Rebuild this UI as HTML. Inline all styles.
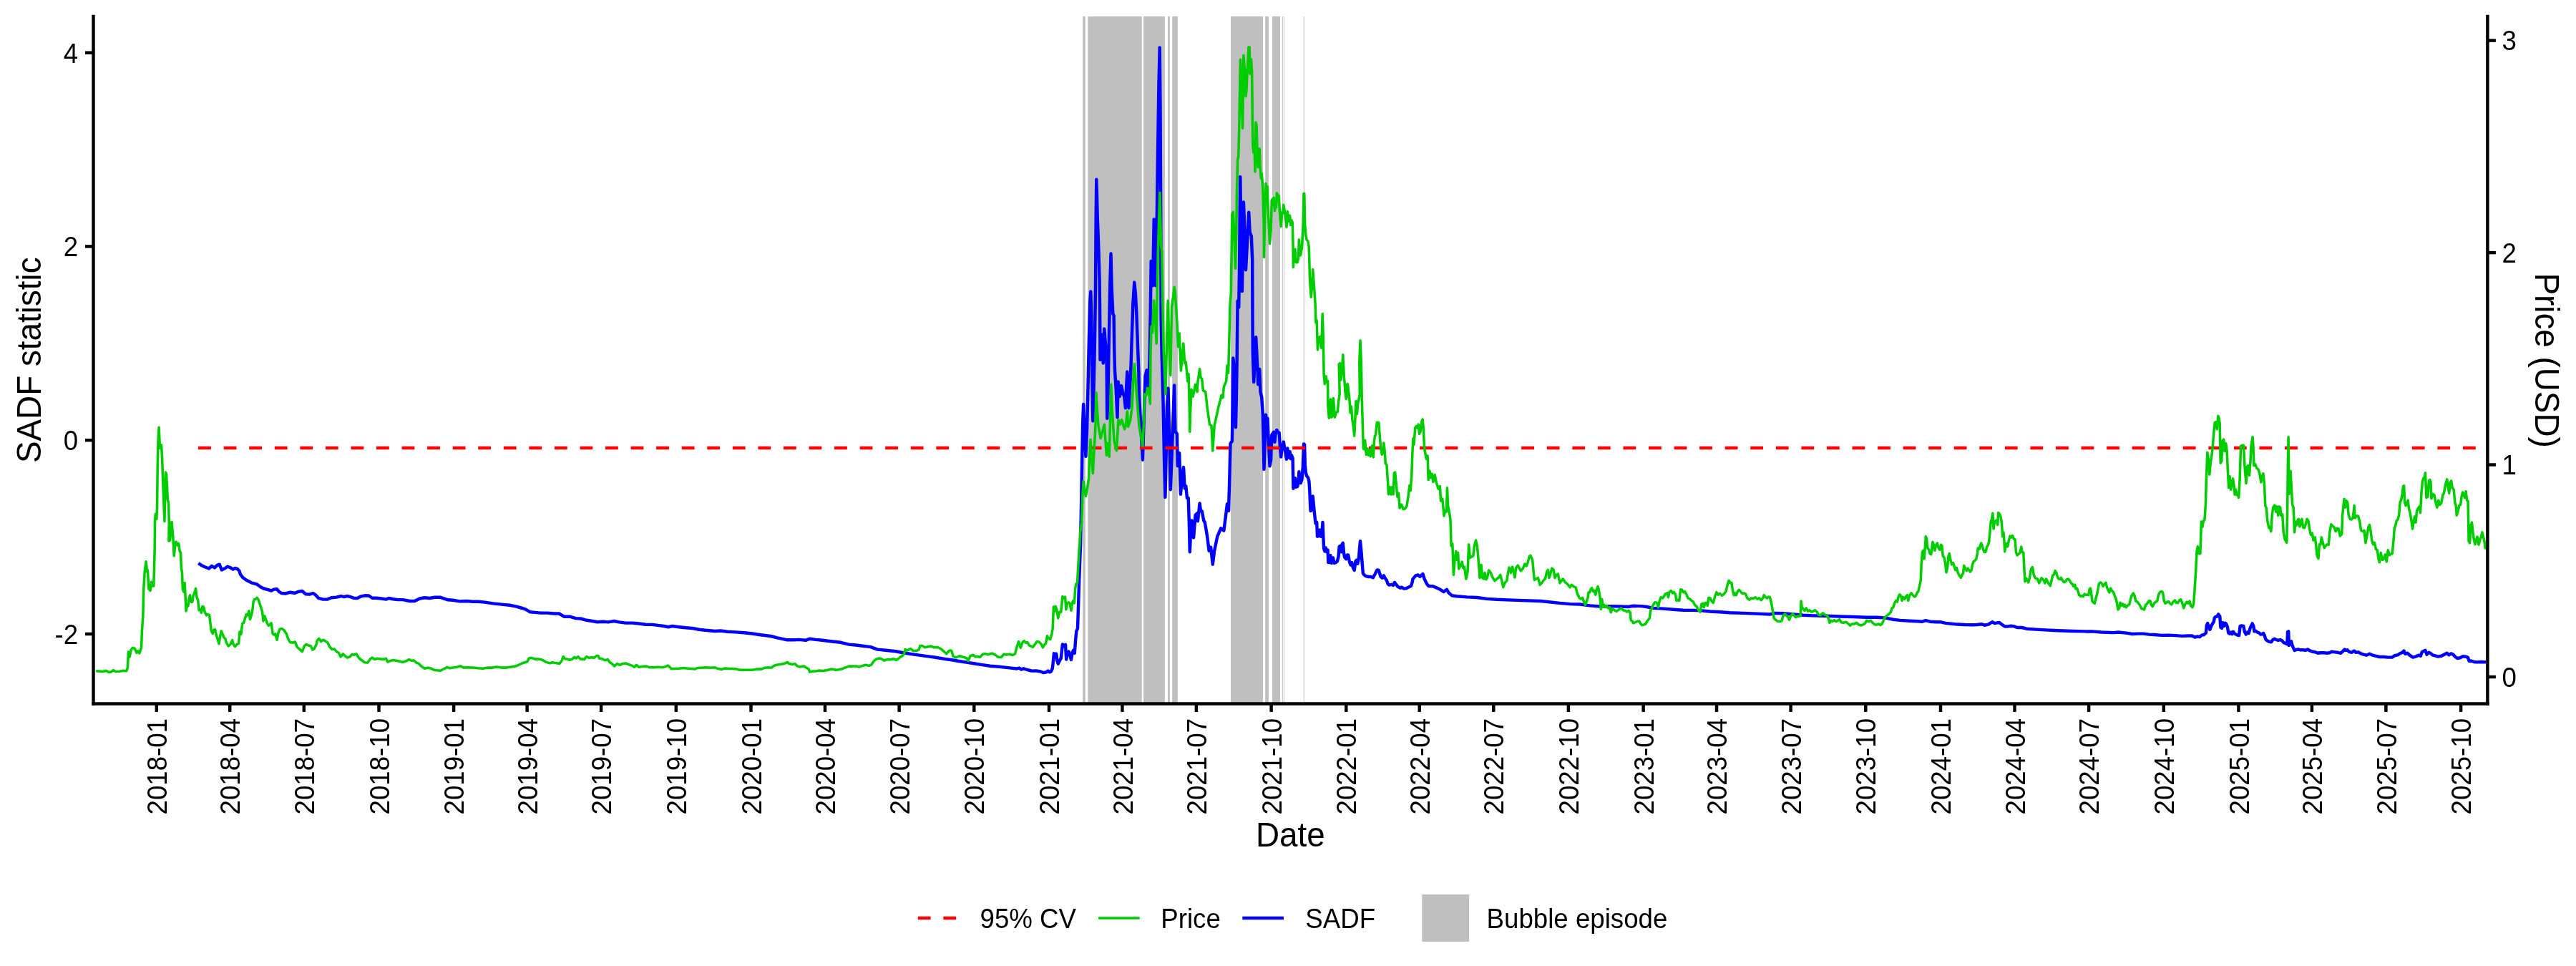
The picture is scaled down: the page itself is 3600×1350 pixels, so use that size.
<!DOCTYPE html>
<html><head><meta charset="utf-8"><title>SADF</title>
<style>html,body{margin:0;padding:0;background:#fff}body{width:3600px;height:1350px;overflow:hidden}</style></head>
<body>
<svg width="3600" height="1350" viewBox="0 0 3600 1350" style="display:block;will-change:transform;font-family:'Liberation Sans',sans-serif">
<rect width="3600" height="1350" fill="#fff"/>
<rect x="1513.1" y="22.9" width="3.7" height="960.5" fill="#bfbfbf"/>
<rect x="1520.2" y="22.9" width="75.5" height="960.5" fill="#bfbfbf"/>
<rect x="1598.1" y="22.9" width="29.8" height="960.5" fill="#bfbfbf"/>
<rect x="1632.0" y="22.9" width="2.8" height="960.5" fill="#bfbfbf"/>
<rect x="1638.1" y="22.9" width="7.8" height="960.5" fill="#bfbfbf"/>
<rect x="1720.0" y="22.9" width="45.0" height="960.5" fill="#bfbfbf"/>
<rect x="1768.2" y="22.9" width="4.7" height="960.5" fill="#bfbfbf"/>
<rect x="1778.0" y="22.9" width="11.0" height="960.5" fill="#bfbfbf"/>
<rect x="1791.83" y="22.9" width="0.95" height="960.5" fill="#bfbfbf"/>
<rect x="1793.83" y="22.9" width="0.95" height="960.5" fill="#bfbfbf"/>
<rect x="1821.83" y="22.9" width="0.95" height="960.5" fill="#bfbfbf"/>
<path d="M277.2 787.1 L281.4 789.9 L286.1 792.2 L291.9 794.5 L295.8 791.0 L300.0 793.4 L303.5 789.9 L306.6 788.7 L309.8 796.4 L314.0 794.5 L318.2 791.7 L322.2 793.4 L325.7 795.7 L328.4 794.1 L331.7 795.0 L334.5 798.0 L335.9 802.7 L339.6 807.3 L344.3 810.8 L351.3 814.3 L359.4 816.7 L364.1 820.2 L368.7 822.5 L374.6 824.1 L379.2 825.5 L382.7 823.6 L386.9 823.2 L389.7 826.7 L393.2 829.0 L399.0 829.5 L404.8 827.8 L411.8 828.8 L417.7 826.7 L422.3 826.0 L427.0 830.2 L432.8 830.6 L437.5 829.0 L440.9 831.3 L444.9 835.8 L451.4 837.6 L457.3 837.6 L463.1 835.3 L470.1 834.6 L477.0 833.0 L480.5 834.1 L485.2 833.0 L489.9 834.1 L494.5 835.8 L499.2 836.0 L503.8 833.7 L509.7 832.3 L515.5 832.5 L520.1 835.8 L526.0 835.8 L533.0 836.5 L539.9 837.6 L543.4 836.0 L549.3 837.2 L556.2 838.1 L563.2 838.1 L572.5 840.0 L579.5 840.0 L586.5 836.5 L593.5 835.3 L600.5 836.0 L607.5 834.8 L615.6 834.8 L621.5 836.9 L626.1 838.3 L633.1 838.8 L642.4 840.4 L651.7 840.0 L661.1 840.7 L668.0 840.7 L677.4 841.6 L689.0 843.4 L700.7 844.6 L712.3 845.8 L721.6 847.6 L730.0 850.0 L734.7 851.7 L740.5 855.2 L747.5 855.9 L755.6 856.6 L764.9 856.6 L774.3 857.5 L781.2 857.5 L788.2 861.7 L796.4 861.7 L804.5 864.1 L811.5 864.5 L819.7 866.8 L827.8 868.0 L834.8 869.2 L843.0 868.7 L850.0 869.4 L858.1 868.0 L865.1 869.4 L874.4 870.6 L883.7 870.6 L893.0 871.5 L902.4 872.7 L911.7 872.9 L921.0 874.1 L928.0 875.0 L933.8 876.2 L939.6 875.0 L948.9 876.2 L958.3 877.3 L967.6 878.0 L976.9 879.7 L986.2 880.8 L999.0 882.0 L1007.2 881.5 L1016.5 882.7 L1028.1 883.4 L1039.8 884.3 L1051.4 885.5 L1063.1 887.3 L1077.0 889.0 L1086.4 891.3 L1100.3 894.3 L1109.7 894.3 L1116.6 893.9 L1126.0 894.8 L1131.8 892.7 L1139.9 893.9 L1149.3 894.8 L1160.9 896.2 L1174.9 897.8 L1186.5 900.6 L1198.2 901.8 L1207.5 903.0 L1216.8 904.1 L1226.1 907.6 L1237.8 908.8 L1251.7 910.2 L1263.4 912.5 L1277.4 914.6 L1293.7 916.9 L1307.6 918.8 L1321.6 921.1 L1330.0 922.3 L1340.4 924.0 L1350.7 925.6 L1361.1 927.3 L1371.4 928.9 L1383.8 930.8 L1396.3 931.8 L1408.7 933.1 L1421.1 934.5 L1424.2 933.5 L1427.3 935.6 L1430.4 934.3 L1435.6 936.0 L1441.8 937.6 L1448.0 937.4 L1454.2 938.5 L1458.4 940.1 L1462.5 939.3 L1464.6 937.6 L1467.1 939.3 L1469.1 938.1 L1470.8 933.9 L1472.0 923.6 L1472.9 913.2 L1474.5 918.4 L1476.2 913.6 L1477.4 923.6 L1478.7 927.7 L1480.7 923.6 L1482.8 919.8 L1484.9 900.4 L1486.9 902.9 L1489.0 900.8 L1490.2 921.5 L1491.9 913.2 L1493.6 910.7 L1495.2 914.2 L1496.9 921.9 L1498.5 913.2 L1499.8 909.1 L1501.8 912.8 L1503.1 894.6 L1504.3 882.2 L1506.0 878.4 L1507.2 842.8 L1508.1 811.8 L1509.3 780.7 L1510.1 760.0 L1510.6 730.0 L1511.4 690.0 L1512.2 640.0 L1513.2 590.0 L1514.1 565.0 L1515.5 600.0 L1517.4 637.8 L1519.0 600.0 L1520.5 540.0 L1522.0 470.0 L1523.4 420.0 L1524.3 407.4 L1525.2 440.0 L1526.2 520.0 L1527.3 588.2 L1528.6 540.0 L1529.9 480.0 L1531.0 400.0 L1531.6 310.0 L1532.3 250.8 L1532.9 270.0 L1533.6 300.0 L1535.4 350.0 L1536.6 392.0 L1537.1 440.0 L1537.5 502.7 L1538.6 490.0 L1539.8 467.6 L1541.7 507.5 L1542.6 480.0 L1543.3 459.6 L1545.4 487.0 L1546.6 509.3 L1547.2 584.8 L1548.3 560.0 L1549.7 480.0 L1551.2 400.0 L1552.5 354.5 L1553.6 400.0 L1555.3 438.5 L1556.6 441.0 L1557.2 487.0 L1558.0 517.7 L1559.6 542.5 L1561.5 583.2 L1562.6 533.5 L1564.9 554.0 L1567.1 539.3 L1569.5 550.0 L1571.2 554.0 L1572.9 570.2 L1574.2 540.0 L1575.3 519.6 L1576.4 545.0 L1577.5 570.2 L1578.8 545.0 L1580.2 520.0 L1583.3 424.8 L1585.3 394.6 L1586.8 410.0 L1588.3 437.3 L1590.1 487.0 L1591.4 520.0 L1591.9 550.8 L1594.0 590.0 L1596.9 642.7 L1598.2 600.0 L1599.4 560.0 L1600.5 526.0 L1602.6 517.2 L1603.5 539.2 L1605.5 542.5 L1606.6 500.0 L1607.7 440.0 L1608.7 365.0 L1609.7 372.0 L1611.1 399.2 L1612.7 306.6 L1614.2 307.0 L1615.3 399.2 L1616.3 340.0 L1617.8 230.0 L1619.4 120.0 L1620.7 66.5 L1621.5 150.0 L1622.2 300.0 L1622.6 440.0 L1623.7 497.0 L1625.5 560.0 L1627.0 640.0 L1628.4 694.9 L1629.6 640.0 L1630.8 570.0 L1632.5 542.6 L1634.0 600.0 L1635.8 684.2 L1637.5 640.0 L1640.0 570.0 L1641.1 538.5 L1642.4 603.1 L1644.9 606.4 L1645.8 651.0 L1648.2 633.1 L1649.9 690.8 L1652.0 668.0 L1654.0 653.0 L1655.7 682.6 L1657.3 679.3 L1659.0 695.9 L1660.7 695.9 L1661.8 730.0 L1662.8 771.3 L1664.0 745.0 L1665.6 727.5 L1668.1 751.4 L1670.6 719.9 L1673.1 717.4 L1673.9 728.2 L1676.6 703.5 L1678.0 714.1 L1679.7 714.1 L1682.2 727.3 L1683.8 730.0 L1687.2 749.9 L1689.6 769.8 L1692.1 764.8 L1694.8 788.7 L1697.1 769.8 L1701.2 749.9 L1706.2 738.3 L1710.3 741.6 L1712.8 722.4 L1715.0 704.3 L1717.0 714.0 L1718.3 669.4 L1719.5 619.7 L1721.9 616.4 L1722.6 570.0 L1723.3 500.4 L1724.4 510.0 L1726.9 597.2 L1727.8 560.0 L1728.6 510.0 L1729.6 420.4 L1731.2 429.5 L1732.0 380.0 L1732.7 300.0 L1733.3 247.1 L1734.0 300.0 L1735.0 370.0 L1735.9 407.0 L1736.9 350.0 L1737.9 282.5 L1739.5 324.7 L1741.0 377.2 L1743.1 337.6 L1745.2 296.7 L1746.7 324.7 L1748.8 329.9 L1750.2 363.5 L1750.5 441.2 L1750.8 492.9 L1752.2 534.0 L1753.8 500.0 L1755.2 471.3 L1757.4 514.2 L1758.2 537.2 L1760.2 516.0 L1761.5 548.0 L1763.2 555.0 L1764.8 578.0 L1765.7 616.0 L1766.5 655.9 L1767.8 616.3 L1769.0 579.8 L1770.1 588.1 L1771.5 584.8 L1772.8 616.3 L1774.5 651.4 L1776.1 642.8 L1777.3 608.0 L1778.9 605.5 L1780.1 603.8 L1781.4 617.8 L1782.7 604.7 L1784.4 601.0 L1786.0 604.7 L1787.7 604.7 L1788.9 624.5 L1790.2 638.5 L1791.7 624.5 L1792.7 622.9 L1793.8 617.6 L1795.5 627.8 L1796.6 632.8 L1798.0 641.8 L1799.3 626.5 L1800.6 636.1 L1801.6 639.4 L1802.6 631.2 L1803.8 641.1 L1804.9 636.1 L1806.6 640.3 L1807.1 665.9 L1807.4 682.7 L1808.7 669.3 L1810.1 668.4 L1811.2 680.8 L1813.2 680.0 L1814.5 674.2 L1815.4 659.3 L1816.5 669.3 L1817.8 675.1 L1819.5 669.3 L1820.8 652.7 L1822.0 620.4 L1823.1 621.2 L1823.8 649.4 L1824.8 660.1 L1826.1 665.1 L1828.1 667.6 L1829.4 672.6 L1830.3 685.8 L1830.8 699.1 L1831.6 714.1 L1833.6 711.6 L1834.7 693.5 L1836.9 716.6 L1838.6 731.5 L1840.2 729.8 L1841.0 749.7 L1843.5 748.9 L1844.7 740.6 L1846.0 749.7 L1847.3 748.0 L1848.5 730.0 L1849.3 749.7 L1850.1 766.3 L1851.3 770.4 L1852.6 765.4 L1854.0 771.2 L1855.6 768.7 L1856.3 786.1 L1857.9 786.1 L1859.3 776.3 L1860.9 787.0 L1862.9 779.5 L1864.6 787.0 L1866.7 786.1 L1868.9 784.5 L1870.5 777.8 L1871.7 763.8 L1873.0 762.9 L1874.5 771.2 L1875.8 760.5 L1876.8 758.8 L1878.0 772.9 L1879.1 778.7 L1881.1 781.2 L1882.8 775.4 L1884.1 775.4 L1885.8 784.5 L1887.4 789.4 L1889.1 786.1 L1890.7 792.8 L1892.7 796.9 L1894.4 784.5 L1895.7 782.8 L1897.3 787.8 L1899.0 779.5 L1900.0 766.3 L1901.0 756.3 L1902.3 769.6 L1903.6 786.1 L1904.8 801.0 L1906.5 803.5 L1908.9 805.2 L1912.3 806.0 L1915.6 806.0 L1918.9 807.3 L1921.4 802.7 L1923.0 799.4 L1924.7 796.4 L1926.8 796.9 L1928.0 801.0 L1929.6 806.0 L1931.8 807.7 L1933.8 804.3 L1935.4 807.7 L1937.9 811.0 L1939.6 815.9 L1941.2 817.6 L1944.6 816.8 L1947.0 817.9 L1949.0 814.0 L1951.2 816.8 L1953.7 820.1 L1957.0 821.7 L1958.6 820.6 L1961.9 822.6 L1965.3 822.2 L1968.6 820.6 L1971.9 818.9 L1973.5 814.3 L1974.4 809.3 L1976.0 807.3 L1978.5 804.3 L1981.8 803.5 L1984.3 806.0 L1988.4 802.0 L1990.6 809.0 L1994.0 816.0 L1996.8 819.3 L2002.4 819.3 L2008.0 821.6 L2013.5 824.3 L2017.7 827.1 L2021.9 823.8 L2024.7 828.5 L2028.9 832.2 L2035.9 833.3 L2049.9 834.4 L2063.9 835.0 L2077.8 836.9 L2091.8 837.8 L2119.8 838.9 L2153.3 840.0 L2180.0 842.9 L2194.0 844.1 L2208.0 844.5 L2221.9 846.4 L2235.9 847.5 L2249.9 847.1 L2263.9 847.5 L2275.5 848.0 L2282.5 846.8 L2294.1 847.1 L2301.1 848.0 L2310.4 849.9 L2324.4 850.6 L2338.4 851.7 L2352.4 852.7 L2366.3 852.9 L2378.0 853.4 L2389.6 854.5 L2403.6 855.2 L2417.6 856.2 L2436.2 856.9 L2454.8 857.6 L2473.5 858.5 L2480.5 856.9 L2492.1 857.3 L2506.1 858.5 L2520.1 859.7 L2534.0 860.4 L2552.7 860.8 L2571.3 861.5 L2589.9 862.0 L2608.6 862.7 L2622.5 862.7 L2634.2 863.4 L2645.8 865.7 L2655.2 866.9 L2669.1 867.8 L2680.0 868.3 L2686.5 868.7 L2691.3 867.2 L2697.4 868.7 L2706.1 869.3 L2712.6 869.3 L2719.1 870.9 L2732.2 872.2 L2745.2 873.0 L2756.1 873.3 L2762.6 873.0 L2769.1 872.2 L2773.5 873.7 L2778.9 872.6 L2782.2 870.4 L2784.3 869.3 L2787.6 871.1 L2790.9 870.4 L2794.1 870.0 L2797.4 872.6 L2801.7 875.4 L2806.1 875.4 L2810.4 874.8 L2814.8 875.4 L2819.1 877.0 L2825.7 877.0 L2832.2 878.7 L2845.2 879.6 L2858.3 880.4 L2875.7 881.3 L2897.4 882.0 L2914.8 882.4 L2923.5 882.4 L2936.5 883.5 L2953.9 884.1 L2960.4 883.5 L2971.3 884.6 L2980.0 886.0 L2987.8 885.6 L2995.5 885.6 L3003.3 886.6 L3011.1 887.0 L3020.8 887.9 L3030.5 887.6 L3040.2 888.1 L3049.9 888.9 L3057.6 888.5 L3063.5 888.5 L3067.3 890.5 L3071.2 889.5 L3074.1 890.1 L3077.0 887.6 L3080.0 887.0 L3082.9 884.6 L3083.8 874.0 L3085.2 871.1 L3086.8 875.9 L3088.3 879.8 L3089.9 875.9 L3091.8 872.0 L3093.7 869.1 L3094.9 863.3 L3096.5 861.7 L3098.4 861.7 L3100.3 858.4 L3102.3 861.4 L3103.4 876.9 L3105.0 877.8 L3106.6 870.1 L3108.1 874.9 L3109.7 870.7 L3111.2 872.0 L3112.8 875.9 L3114.3 884.6 L3115.9 885.6 L3117.8 883.7 L3119.4 886.2 L3120.9 882.7 L3122.9 885.6 L3124.8 886.6 L3126.7 887.6 L3129.1 888.1 L3130.6 874.9 L3132.6 874.5 L3135.3 874.9 L3136.8 882.7 L3138.8 886.6 L3140.7 883.7 L3142.7 885.0 L3144.6 877.8 L3146.1 874.5 L3147.7 871.4 L3149.3 874.9 L3150.4 882.3 L3152.7 881.7 L3154.7 883.7 L3157.0 884.3 L3159.3 886.6 L3161.3 886.2 L3163.2 885.0 L3164.8 888.5 L3166.3 893.4 L3168.3 895.3 L3171.2 896.7 L3174.1 897.3 L3176.4 894.0 L3178.4 892.8 L3181.1 894.0 L3183.8 894.9 L3186.7 894.0 L3189.2 895.3 L3191.6 898.2 L3194.5 899.2 L3196.4 900.2 L3197.0 883.1 L3198.2 882.3 L3198.9 902.1 L3200.5 897.3 L3202.0 896.3 L3203.6 902.1 L3205.2 906.0 L3206.7 908.9 L3209.0 907.9 L3211.9 907.5 L3214.9 908.3 L3218.7 908.3 L3221.7 908.9 L3225.0 907.5 L3228.4 909.5 L3232.3 910.8 L3236.2 911.4 L3239.1 912.8 L3243.0 912.2 L3247.9 912.2 L3251.7 912.8 L3255.6 912.2 L3258.5 910.8 L3263.4 911.4 L3267.3 911.8 L3271.1 912.8 L3274.1 910.3 L3276.6 907.5 L3278.5 908.9 L3280.5 908.3 L3282.8 910.8 L3286.7 911.8 L3289.8 909.5 L3292.5 911.8 L3296.0 911.4 L3299.3 913.4 L3303.2 914.7 L3307.1 915.7 L3311.5 913.8 L3314.8 915.3 L3319.7 916.7 L3325.5 918.0 L3331.3 918.0 L3337.1 918.6 L3343.0 918.6 L3346.8 916.1 L3351.1 915.3 L3354.6 912.8 L3357.5 911.8 L3359.5 909.5 L3361.4 913.8 L3364.3 912.8 L3367.2 915.3 L3372.1 918.6 L3376.0 917.6 L3379.8 915.7 L3382.8 916.7 L3384.7 911.4 L3387.6 909.5 L3389.5 908.9 L3391.5 914.7 L3394.4 911.8 L3397.3 913.4 L3400.2 915.7 L3404.1 916.7 L3407.0 917.6 L3411.9 916.7 L3415.8 914.7 L3419.6 912.8 L3422.5 915.3 L3425.5 913.4 L3428.4 914.7 L3431.3 918.0 L3434.2 920.0 L3438.1 919.2 L3442.0 917.3 L3445.8 917.6 L3448.8 918.6 L3450.7 923.9 L3453.6 923.5 L3457.5 925.0 L3461.4 925.4 L3467.2 925.0 L3474.0 925.4" fill="none" stroke="#0000ff" stroke-width="4.45" stroke-linejoin="round" stroke-linecap="butt"/>
<path d="M277.1 625.9 H3473.9" fill="none" stroke="#ff0000" stroke-width="4.45" stroke-dasharray="17.78 17.78"/>
<path d="M134.2 937.8 L144.0 938.5 L148.2 937.3 L152.1 939.4 L155.6 938.9 L158.4 936.6 L161.4 938.5 L167.3 938.2 L171.9 937.3 L176.6 937.8 L178.4 933.1 L179.4 911.0 L181.2 918.0 L183.1 908.2 L185.4 905.4 L188.2 906.3 L191.0 912.4 L192.9 909.8 L194.8 912.9 L197.5 905.2 L198.5 880.7 L199.9 859.8 L200.8 822.5 L202.2 799.2 L204.1 784.8 L205.5 799.2 L206.4 796.9 L207.8 822.5 L210.1 825.3 L211.5 813.2 L213.4 819.0 L214.8 819.0 L216.2 766.6 L216.5 729.1 L217.3 718.3 L218.8 725.3 L219.5 710.4 L220.2 654.5 L221.0 617.3 L222.1 597.2 L223.2 621.0 L224.3 626.6 L225.5 621.9 L226.6 639.6 L227.7 673.2 L228.8 701.1 L229.9 728.6 L230.7 691.8 L231.4 660.1 L232.5 662.0 L233.7 684.3 L234.4 699.3 L235.5 702.0 L236.3 729.1 L235.9 756.1 L237.4 755.2 L238.9 744.0 L240.0 729.5 L241.8 750.3 L243.2 776.8 L244.6 764.3 L246.0 757.3 L247.9 761.9 L249.7 759.6 L251.1 770.1 L252.5 772.4 L253.4 794.5 L254.4 799.2 L255.3 822.5 L256.7 827.1 L258.1 814.6 L259.0 831.8 L260.0 853.9 L261.4 846.9 L262.8 846.9 L264.2 836.5 L265.6 831.8 L267.0 841.1 L268.8 841.1 L270.2 831.8 L271.6 829.5 L273.5 822.5 L274.9 834.1 L276.7 838.8 L278.1 852.8 L280.0 851.6 L281.4 856.3 L282.8 847.6 L284.7 848.1 L286.1 855.1 L288.4 859.8 L290.7 858.6 L292.6 859.8 L294.0 871.4 L295.4 881.9 L297.2 885.4 L299.1 880.2 L300.5 879.5 L302.4 887.7 L304.2 893.5 L306.1 899.8 L307.5 890.0 L309.3 881.9 L311.2 886.5 L313.1 891.2 L314.9 892.4 L316.3 898.2 L319.1 902.8 L321.9 900.5 L324.7 894.7 L326.1 900.5 L328.4 903.5 L331.2 900.5 L333.6 898.9 L335.0 883.0 L336.8 886.5 L338.7 871.4 L340.6 870.2 L342.4 864.4 L344.3 858.6 L346.1 859.8 L348.0 853.9 L349.4 865.6 L351.3 859.8 L352.7 853.9 L354.1 841.1 L355.5 837.6 L357.3 837.2 L359.2 835.3 L361.5 838.8 L362.9 843.4 L364.8 849.3 L366.6 855.1 L368.0 867.9 L369.9 860.9 L371.8 866.7 L373.6 871.4 L375.5 874.2 L377.4 872.6 L379.2 870.9 L381.1 885.4 L383.0 887.2 L384.8 885.8 L387.1 894.2 L389.0 884.2 L390.9 879.5 L393.7 878.4 L396.9 880.7 L400.2 885.4 L402.5 892.4 L405.3 897.5 L408.6 898.2 L412.3 897.0 L415.1 904.0 L418.8 907.5 L422.5 910.5 L425.3 902.8 L427.7 900.5 L430.5 901.7 L434.2 902.8 L437.0 908.2 L439.3 906.3 L442.1 900.5 L443.5 894.7 L445.8 892.4 L448.6 896.6 L451.4 894.2 L454.7 895.9 L458.0 898.2 L460.7 904.0 L464.0 907.5 L467.3 907.0 L470.1 910.5 L473.3 912.2 L476.1 918.0 L479.4 913.8 L482.2 916.8 L485.4 919.1 L488.7 918.0 L492.0 914.5 L494.8 915.2 L498.0 913.8 L501.3 919.1 L505.0 922.6 L509.7 925.7 L513.9 926.1 L517.6 920.8 L520.4 919.1 L523.6 921.5 L527.4 920.3 L530.6 920.8 L535.3 921.5 L539.5 920.3 L541.8 925.0 L544.6 923.8 L549.3 922.6 L553.9 923.3 L558.6 924.3 L563.2 925.4 L567.9 923.8 L571.6 921.5 L574.9 923.3 L578.6 923.1 L581.9 926.1 L585.1 927.3 L588.4 930.8 L593.5 934.3 L598.2 933.1 L602.8 934.3 L607.5 936.6 L615.6 937.3 L620.3 934.8 L625.0 932.4 L628.4 933.8 L633.1 933.1 L637.8 932.4 L643.6 930.8 L648.2 933.1 L654.1 932.7 L661.1 933.1 L668.0 933.8 L675.0 934.3 L682.0 933.1 L689.0 933.1 L693.7 932.0 L700.7 933.1 L707.6 933.1 L714.6 932.0 L721.6 930.8 L726.3 928.5 L730.0 926.8 L733.5 925.8 L737.0 924.6 L739.3 920.0 L742.8 919.3 L747.5 921.1 L753.3 921.1 L758.0 922.3 L762.6 925.1 L768.4 926.9 L771.9 925.8 L776.6 926.5 L781.7 927.6 L785.0 923.4 L787.3 917.6 L789.6 920.7 L792.9 921.1 L796.4 922.3 L799.9 921.1 L802.7 918.3 L805.0 920.0 L808.0 917.6 L811.1 921.1 L813.9 921.1 L816.6 921.6 L819.7 917.6 L823.2 919.3 L826.7 918.8 L830.2 919.3 L833.6 916.5 L836.0 916.5 L837.6 920.0 L841.8 921.1 L845.3 922.7 L849.3 921.6 L852.3 925.8 L855.8 928.1 L858.6 930.9 L862.3 927.6 L866.3 929.3 L869.8 927.6 L874.4 926.9 L879.1 928.8 L883.7 930.4 L886.5 932.3 L889.5 929.3 L893.0 932.3 L897.7 931.6 L903.5 931.1 L908.2 932.8 L914.0 932.8 L919.8 932.3 L925.7 932.8 L930.3 931.6 L933.1 930.0 L935.4 931.6 L937.8 934.4 L943.1 934.6 L948.9 934.2 L954.8 933.5 L959.4 933.9 L965.2 934.4 L971.1 935.1 L974.6 933.5 L980.4 933.2 L986.2 932.8 L992.0 933.2 L999.0 932.8 L1003.7 934.6 L1008.3 935.6 L1013.0 933.9 L1018.8 934.4 L1024.6 934.6 L1029.3 935.1 L1034.0 936.3 L1042.1 936.3 L1051.4 936.3 L1058.4 935.1 L1064.2 935.1 L1068.9 933.2 L1073.6 932.8 L1078.2 933.2 L1081.7 930.4 L1085.2 929.3 L1089.9 928.6 L1095.7 927.6 L1100.3 925.3 L1102.7 927.6 L1107.3 928.6 L1110.8 927.6 L1114.3 930.9 L1117.8 932.1 L1123.6 930.9 L1127.1 933.2 L1130.2 935.1 L1131.6 939.1 L1136.4 938.1 L1141.1 937.9 L1144.6 937.0 L1150.4 937.4 L1156.2 936.5 L1162.1 935.1 L1167.9 936.3 L1172.5 935.8 L1176.0 935.1 L1180.7 933.2 L1186.5 931.1 L1192.3 931.1 L1197.0 930.9 L1200.5 932.1 L1205.2 930.4 L1209.8 929.3 L1214.5 930.4 L1218.0 928.8 L1221.5 923.4 L1225.0 921.1 L1228.4 920.0 L1231.9 920.7 L1235.4 923.0 L1240.1 921.6 L1244.8 921.8 L1248.2 920.7 L1252.9 922.3 L1256.9 919.3 L1261.1 916.5 L1263.4 914.1 L1265.0 907.6 L1268.0 908.8 L1272.7 906.7 L1276.2 909.5 L1280.9 909.5 L1284.3 907.6 L1285.7 902.5 L1289.0 902.5 L1292.5 904.8 L1296.0 904.1 L1300.7 903.0 L1305.3 904.8 L1311.1 904.8 L1314.6 906.7 L1318.1 909.5 L1322.8 913.7 L1326.3 909.5 L1329.1 909.0 L1330.0 910.1 L1332.1 917.3 L1336.2 919.0 L1341.4 916.7 L1346.6 918.4 L1350.7 919.8 L1353.2 923.6 L1355.9 916.7 L1360.0 915.3 L1363.1 917.8 L1366.2 917.3 L1369.3 918.4 L1373.5 914.2 L1376.6 913.6 L1380.7 914.9 L1383.8 913.6 L1386.9 913.2 L1391.1 915.3 L1395.2 918.4 L1399.4 918.4 L1402.9 914.2 L1406.6 914.9 L1410.7 914.2 L1414.9 915.7 L1418.6 913.6 L1421.1 903.9 L1423.6 896.6 L1426.3 905.3 L1429.0 897.7 L1431.0 895.6 L1433.5 898.3 L1436.0 897.7 L1438.1 901.8 L1440.8 902.9 L1443.5 904.3 L1446.4 900.4 L1449.0 896.6 L1452.2 897.1 L1455.3 900.4 L1457.3 904.9 L1459.4 901.4 L1461.5 899.1 L1463.5 888.8 L1465.6 892.5 L1467.7 893.5 L1469.8 886.3 L1471.2 878.0 L1472.4 848.0 L1473.9 854.2 L1475.3 847.4 L1476.6 851.1 L1478.7 863.9 L1480.7 855.2 L1482.8 855.2 L1484.9 833.5 L1486.9 835.6 L1488.6 834.1 L1489.8 851.8 L1491.5 842.8 L1493.6 841.8 L1495.2 843.9 L1496.9 853.2 L1498.5 842.8 L1499.8 839.7 L1501.4 842.8 L1502.7 822.1 L1503.9 815.9 L1505.6 814.2 L1506.8 791.1 L1508.1 768.3 L1508.9 760.0 L1509.5 745.0 L1511.6 730.0 L1513.0 690.0 L1514.1 672.4 L1515.8 685.0 L1517.4 693.4 L1519.5 682.0 L1521.5 669.4 L1523.0 630.0 L1524.0 614.4 L1525.5 640.0 L1527.3 661.4 L1529.0 630.0 L1530.6 603.1 L1531.5 565.0 L1532.0 548.9 L1533.1 570.0 L1535.0 595.0 L1538.1 612.5 L1540.6 603.1 L1543.4 593.2 L1546.4 636.5 L1548.4 619.4 L1550.2 638.2 L1551.5 590.0 L1552.7 537.3 L1554.0 570.0 L1557.1 616.4 L1560.5 629.9 L1562.9 586.6 L1565.4 593.2 L1567.6 586.6 L1571.6 599.8 L1573.7 591.5 L1575.4 574.7 L1576.5 596.5 L1579.5 588.2 L1582.0 570.0 L1583.8 530.0 L1585.4 508.6 L1587.0 530.0 L1590.3 575.0 L1592.0 595.0 L1594.5 610.0 L1596.9 623.3 L1598.5 590.0 L1599.4 550.8 L1601.9 552.4 L1603.5 542.5 L1605.2 542.5 L1607.3 564.3 L1608.0 492.8 L1609.0 456.1 L1610.6 464.9 L1612.5 420.0 L1614.2 440.0 L1616.2 480.0 L1617.2 410.0 L1618.4 349.4 L1620.9 269.3 L1622.6 342.7 L1623.8 352.0 L1624.6 410.0 L1626.2 490.0 L1628.9 551.0 L1630.5 480.0 L1632.2 420.2 L1633.5 470.0 L1635.8 524.5 L1637.5 429.9 L1639.5 415.0 L1641.1 401.3 L1642.4 410.0 L1644.9 449.8 L1646.6 484.8 L1648.2 466.1 L1650.4 517.9 L1652.5 495.0 L1653.8 479.9 L1655.7 507.7 L1657.3 506.1 L1659.8 532.8 L1661.0 522.4 L1662.3 570.0 L1662.8 603.4 L1663.6 575.0 L1665.0 544.2 L1667.3 554.1 L1670.6 537.3 L1673.1 547.7 L1673.9 534.2 L1676.6 515.7 L1678.0 527.6 L1679.7 529.3 L1681.4 545.8 L1684.7 547.5 L1687.2 570.0 L1690.5 593.2 L1693.0 594.8 L1694.8 629.9 L1697.1 594.8 L1700.0 582.0 L1703.0 568.0 L1705.4 559.1 L1707.0 552.4 L1709.0 555.8 L1710.3 540.8 L1713.7 532.6 L1715.0 510.8 L1716.6 521.2 L1717.8 476.3 L1719.0 426.6 L1720.3 410.0 L1721.9 299.7 L1723.3 296.4 L1724.8 330.0 L1726.6 375.3 L1727.8 320.0 L1728.6 265.0 L1729.7 222.0 L1730.7 219.5 L1731.7 180.6 L1732.8 118.5 L1733.5 83.2 L1734.3 100.4 L1735.3 144.4 L1736.6 179.2 L1737.4 118.5 L1737.9 77.2 L1739.0 92.6 L1740.0 100.4 L1741.0 134.7 L1742.1 123.7 L1743.1 100.4 L1744.1 82.3 L1745.0 66.0 L1746.2 66.0 L1746.7 102.9 L1747.8 92.6 L1748.5 82.8 L1749.6 100.4 L1750.4 170.3 L1750.9 203.9 L1751.9 213.0 L1752.9 197.6 L1754.0 240.0 L1755.0 171.1 L1756.0 175.5 L1757.1 211.7 L1758.1 233.6 L1759.2 222.0 L1760.2 207.9 L1761.2 235.0 L1762.3 249.2 L1763.3 242.7 L1764.8 263.1 L1766.2 312.8 L1766.5 359.4 L1767.8 296.3 L1769.0 256.5 L1770.1 263.1 L1771.1 260.6 L1772.3 296.3 L1774.5 340.4 L1776.1 322.8 L1777.3 279.7 L1778.9 278.0 L1780.1 276.4 L1781.4 294.6 L1782.7 288.0 L1783.4 289.6 L1784.4 269.8 L1786.0 273.1 L1787.2 273.9 L1788.4 296.3 L1790.2 316.4 L1791.7 296.3 L1792.7 297.9 L1793.8 286.3 L1795.5 296.3 L1796.3 301.2 L1798.0 317.2 L1799.3 295.4 L1800.5 304.5 L1801.3 309.5 L1802.6 301.2 L1803.8 314.5 L1804.9 307.8 L1806.3 311.2 L1807.1 345.9 L1807.4 373.5 L1808.7 349.3 L1809.9 348.4 L1811.2 366.6 L1813.2 366.6 L1814.5 360.8 L1815.4 334.9 L1816.5 349.3 L1817.5 356.7 L1819.5 345.9 L1821.2 312.8 L1822.0 270.6 L1822.8 270.6 L1823.6 312.8 L1824.8 327.7 L1826.1 335.2 L1827.8 336.8 L1829.1 344.3 L1829.8 362.5 L1830.3 385.7 L1831.4 403.3 L1832.3 415.1 L1833.6 399.9 L1834.7 376.5 L1836.9 406.6 L1838.1 424.8 L1839.0 451.3 L1840.2 448.0 L1841.4 488.8 L1843.5 471.2 L1845.2 470.3 L1846.8 486.3 L1848.2 438.6 L1849.3 472.8 L1850.1 522.5 L1851.3 536.8 L1853.0 525.8 L1854.3 534.1 L1855.6 532.4 L1855.9 566.6 L1857.3 584.2 L1858.6 574.8 L1859.6 558.0 L1860.6 583.1 L1861.7 582.3 L1863.4 556.6 L1864.2 566.6 L1865.5 583.1 L1867.2 576.5 L1869.2 575.7 L1870.8 559.9 L1872.2 550.0 L1871.2 509.3 L1872.5 507.6 L1873.8 531.0 L1875.5 515.9 L1876.8 495.7 L1878.1 522.5 L1880.0 547.3 L1881.3 557.5 L1882.8 551.7 L1881.6 538.2 L1883.4 536.6 L1885.8 556.6 L1887.1 576.8 L1888.4 568.0 L1889.9 586.4 L1891.6 598.0 L1892.7 609.1 L1894.0 583.1 L1895.0 560.5 L1896.5 578.4 L1897.7 563.3 L1899.0 558.3 L1900.3 550.0 L1899.8 505.9 L1901.0 475.9 L1902.3 505.9 L1903.1 550.0 L1904.0 583.1 L1905.3 627.0 L1906.5 627.8 L1907.6 615.2 L1909.3 635.3 L1910.9 627.0 L1912.3 636.1 L1913.9 628.7 L1915.2 637.8 L1916.4 632.8 L1917.6 622.9 L1919.2 638.9 L1920.5 616.3 L1921.4 609.6 L1922.5 608.0 L1924.2 590.6 L1926.8 590.6 L1928.0 606.3 L1929.6 626.2 L1931.3 635.3 L1932.5 632.8 L1933.8 619.0 L1935.1 629.5 L1936.3 647.7 L1937.9 649.4 L1939.6 674.2 L1940.4 690.8 L1942.4 680.8 L1944.1 691.0 L1945.4 680.8 L1947.0 690.8 L1948.4 661.0 L1949.7 660.1 L1951.2 675.9 L1952.8 694.1 L1954.5 689.1 L1955.3 699.9 L1956.1 710.0 L1958.6 705.0 L1961.1 711.7 L1963.6 710.8 L1966.1 706.5 L1967.2 699.1 L1968.2 692.4 L1969.9 678.4 L1971.1 685.8 L1972.7 665.9 L1973.9 632.8 L1974.9 612.9 L1976.0 621.2 L1977.7 598.0 L1979.3 595.5 L1981.0 598.0 L1982.2 593.1 L1983.5 606.3 L1985.1 603.0 L1986.8 588.9 L1988.1 586.1 L1989.2 598.0 L1990.6 625.9 L1991.7 632.9 L1993.4 641.3 L1995.1 637.1 L1996.2 670.6 L1997.9 658.0 L1999.6 667.8 L2001.2 662.2 L2002.9 673.4 L2005.2 663.6 L2007.4 674.8 L2010.2 683.2 L2012.4 679.6 L2013.5 700.0 L2015.8 697.2 L2018.0 720.9 L2019.7 713.9 L2021.4 715.3 L2022.5 681.8 L2023.6 707.0 L2025.3 715.3 L2027.0 726.5 L2028.1 762.9 L2029.8 760.1 L2031.4 803.4 L2033.1 782.4 L2034.8 770.4 L2036.5 782.4 L2037.6 772.6 L2038.7 795.0 L2040.9 790.8 L2043.2 785.2 L2044.8 793.6 L2046.5 792.2 L2048.8 809.0 L2051.0 799.2 L2052.7 760.9 L2054.3 779.6 L2056.6 778.2 L2058.8 776.8 L2060.5 762.9 L2062.5 755.0 L2064.4 762.9 L2066.1 782.4 L2068.0 807.6 L2070.0 789.4 L2071.7 807.6 L2073.4 809.0 L2075.0 800.6 L2076.7 809.8 L2078.4 807.6 L2080.6 797.0 L2083.4 800.6 L2086.2 807.6 L2089.0 811.8 L2091.8 809.0 L2094.6 807.0 L2096.8 803.4 L2099.1 813.2 L2100.7 820.7 L2103.0 814.6 L2105.8 811.8 L2107.5 800.6 L2109.1 793.0 L2111.4 800.6 L2113.6 792.2 L2115.3 799.2 L2117.0 807.0 L2118.6 793.6 L2121.1 790.2 L2123.1 793.6 L2125.3 797.8 L2128.1 795.0 L2130.9 788.0 L2133.2 790.8 L2135.4 785.2 L2137.1 778.2 L2138.8 776.3 L2141.6 782.4 L2143.2 799.2 L2144.3 810.4 L2146.6 809.0 L2149.4 807.6 L2152.2 817.4 L2154.7 814.6 L2157.2 810.9 L2159.4 809.0 L2161.7 799.2 L2163.4 796.4 L2165.0 807.6 L2166.7 802.0 L2168.9 794.2 L2171.2 796.4 L2172.9 807.6 L2175.1 803.4 L2177.3 802.0 L2180.0 814.9 L2182.3 811.4 L2184.2 809.1 L2187.0 813.3 L2190.5 816.1 L2194.0 820.8 L2196.3 817.3 L2199.1 819.6 L2202.1 820.8 L2204.5 830.1 L2207.5 835.9 L2209.8 837.1 L2211.4 835.4 L2213.8 841.7 L2215.4 845.2 L2217.3 840.6 L2219.1 834.7 L2220.1 827.7 L2221.9 827.7 L2223.3 823.1 L2224.7 821.9 L2226.6 826.6 L2228.4 825.4 L2229.8 831.2 L2231.2 824.3 L2233.1 819.6 L2234.5 825.4 L2235.9 833.6 L2237.3 851.3 L2238.7 837.3 L2240.1 847.5 L2241.5 845.2 L2243.4 848.7 L2245.2 846.4 L2247.5 849.9 L2249.4 848.7 L2251.3 855.7 L2253.1 851.0 L2255.7 852.2 L2259.2 854.5 L2262.0 852.2 L2265.7 849.9 L2268.5 852.7 L2271.3 853.4 L2273.6 855.0 L2276.0 853.4 L2278.3 855.7 L2279.2 866.6 L2281.1 868.0 L2282.5 870.8 L2285.3 869.7 L2287.6 868.5 L2290.9 868.0 L2292.7 871.3 L2294.6 873.6 L2296.9 873.2 L2299.7 872.0 L2302.0 868.0 L2305.3 863.9 L2306.9 852.2 L2308.6 849.9 L2310.4 845.2 L2312.8 841.7 L2315.6 842.4 L2317.4 848.7 L2319.3 839.4 L2321.1 834.7 L2323.5 835.9 L2325.3 833.6 L2327.2 830.1 L2330.0 828.9 L2331.4 834.7 L2332.8 827.7 L2335.6 825.4 L2337.5 828.9 L2339.3 827.7 L2341.2 830.1 L2343.0 839.4 L2345.4 838.2 L2346.8 839.4 L2348.6 823.8 L2350.5 824.3 L2352.4 827.7 L2354.2 826.6 L2356.6 830.1 L2358.9 835.9 L2361.7 837.1 L2364.0 839.4 L2366.3 841.0 L2368.7 845.7 L2371.0 847.5 L2373.3 852.2 L2376.1 855.0 L2378.0 844.1 L2379.8 843.4 L2381.2 848.7 L2383.1 842.4 L2385.0 842.4 L2386.4 846.4 L2387.8 835.4 L2390.1 835.9 L2392.0 840.1 L2394.3 842.4 L2396.6 834.0 L2398.9 827.7 L2401.3 831.2 L2403.6 829.4 L2406.4 832.4 L2409.2 830.1 L2412.0 826.6 L2413.9 818.4 L2416.2 811.4 L2418.5 814.9 L2419.9 814.5 L2421.8 826.6 L2423.2 831.7 L2424.6 828.9 L2426.4 831.7 L2428.3 826.6 L2430.2 824.3 L2432.5 826.6 L2434.8 829.4 L2437.6 828.9 L2439.5 830.1 L2441.8 835.9 L2444.6 838.2 L2447.4 835.9 L2450.2 836.4 L2453.0 834.7 L2455.8 837.1 L2458.6 835.9 L2461.4 838.7 L2463.7 835.9 L2465.1 831.7 L2467.4 834.7 L2469.8 835.9 L2471.6 834.0 L2473.5 834.7 L2475.3 841.7 L2477.2 852.2 L2479.1 863.9 L2480.9 865.7 L2483.7 868.0 L2486.5 868.5 L2489.8 868.0 L2492.1 860.4 L2494.4 858.0 L2496.8 860.4 L2498.6 862.0 L2500.5 866.2 L2502.8 860.4 L2505.2 858.0 L2507.5 860.4 L2509.3 862.7 L2511.7 861.1 L2514.0 861.5 L2516.3 860.4 L2517.0 840.1 L2518.2 848.7 L2520.1 851.0 L2521.9 853.4 L2524.3 849.9 L2526.6 854.1 L2528.9 852.7 L2531.2 855.0 L2533.6 854.5 L2536.4 852.7 L2539.2 855.0 L2541.5 859.2 L2544.3 859.7 L2547.5 856.9 L2550.3 859.2 L2553.6 860.4 L2555.5 865.0 L2556.9 870.4 L2558.7 867.3 L2561.1 868.5 L2563.4 866.6 L2565.7 868.5 L2568.5 867.3 L2570.8 865.7 L2573.2 869.7 L2576.0 870.4 L2579.7 869.2 L2582.5 871.3 L2585.7 874.3 L2588.1 872.0 L2591.3 872.0 L2594.6 870.4 L2597.9 873.2 L2601.1 873.9 L2604.4 872.7 L2606.7 870.8 L2608.6 867.3 L2611.4 868.5 L2614.2 867.3 L2617.0 870.4 L2619.8 872.7 L2622.5 873.2 L2625.3 872.0 L2627.7 873.6 L2630.0 872.0 L2632.3 867.3 L2634.2 862.7 L2637.0 860.4 L2640.0 858.0 L2642.3 855.7 L2644.0 849.9 L2645.8 848.7 L2647.7 842.9 L2649.6 839.4 L2651.4 841.0 L2653.3 833.6 L2654.7 830.8 L2656.6 832.4 L2658.0 839.4 L2659.8 834.7 L2661.7 837.1 L2663.5 834.0 L2665.4 831.7 L2666.8 839.4 L2668.7 832.4 L2671.0 828.9 L2673.3 831.7 L2675.7 834.0 L2677.5 832.4 L2678.9 828.9 L2680.8 826.6 L2682.2 820.4 L2684.3 810.7 L2685.2 787.8 L2686.5 771.5 L2687.8 769.3 L2689.1 781.0 L2690.4 763.9 L2691.3 749.8 L2692.6 753.0 L2693.9 766.1 L2695.7 768.3 L2697.0 773.7 L2698.7 774.8 L2700.0 765.0 L2700.9 757.4 L2702.2 760.7 L2703.9 769.3 L2705.7 761.7 L2707.4 759.1 L2709.1 765.7 L2710.9 768.3 L2712.6 761.3 L2713.9 762.8 L2715.2 777.0 L2717.0 779.1 L2718.7 787.8 L2720.0 799.8 L2721.7 792.2 L2723.0 777.0 L2724.3 773.7 L2726.1 783.5 L2727.8 788.9 L2729.6 786.7 L2731.3 792.2 L2732.6 796.5 L2734.3 793.3 L2736.1 799.8 L2737.4 803.0 L2739.1 805.2 L2740.4 807.4 L2742.2 803.0 L2743.5 801.3 L2744.8 790.4 L2746.5 794.3 L2748.3 797.6 L2750.0 794.3 L2751.7 796.5 L2753.5 799.1 L2755.2 796.5 L2756.5 788.9 L2758.3 784.6 L2760.0 783.5 L2761.7 781.3 L2763.0 775.9 L2764.3 766.1 L2766.1 767.2 L2767.4 762.8 L2768.7 759.1 L2770.0 761.7 L2771.3 767.2 L2773.0 771.5 L2774.8 771.5 L2776.5 765.0 L2778.3 761.7 L2779.6 757.4 L2780.9 744.3 L2782.2 729.1 L2783.5 725.9 L2784.8 717.2 L2786.1 738.9 L2787.4 729.1 L2788.7 728.0 L2790.4 727.0 L2791.7 733.5 L2792.6 716.5 L2794.3 718.3 L2796.1 722.6 L2797.4 731.3 L2798.7 749.8 L2800.0 744.3 L2800.9 755.2 L2801.7 770.8 L2803.0 761.7 L2804.3 759.6 L2805.7 763.9 L2807.4 755.2 L2809.1 749.1 L2810.9 750.9 L2812.6 748.7 L2814.3 753.0 L2816.1 754.1 L2817.4 771.5 L2819.1 775.9 L2821.3 774.3 L2823.0 772.6 L2824.8 764.3 L2826.1 771.5 L2827.8 772.6 L2829.1 798.7 L2830.0 812.8 L2831.7 808.5 L2833.5 810.7 L2834.8 813.9 L2836.5 807.4 L2837.8 797.6 L2839.1 794.3 L2840.4 792.6 L2842.2 803.0 L2843.9 807.4 L2845.7 808.5 L2847.4 809.1 L2849.6 815.0 L2851.3 811.7 L2853.0 807.8 L2854.8 809.6 L2856.5 811.7 L2857.8 815.0 L2859.6 809.1 L2861.3 812.8 L2863.0 815.7 L2865.2 818.7 L2867.0 811.7 L2868.7 804.1 L2870.4 803.0 L2872.2 797.6 L2873.9 800.9 L2875.7 807.4 L2877.4 809.1 L2879.1 809.6 L2880.4 807.4 L2882.2 810.7 L2884.3 813.5 L2886.5 812.8 L2888.7 809.6 L2890.4 809.1 L2892.6 811.7 L2894.3 815.0 L2896.1 816.1 L2897.8 819.3 L2899.6 817.2 L2900.9 822.6 L2902.6 822.2 L2904.3 827.0 L2905.7 831.7 L2907.8 833.5 L2909.6 832.4 L2911.3 833.5 L2913.0 830.2 L2914.8 831.3 L2916.5 831.3 L2918.7 831.7 L2920.0 823.7 L2921.3 822.2 L2922.6 829.1 L2923.9 840.0 L2925.7 842.2 L2927.4 843.3 L2929.1 835.7 L2930.9 829.1 L2932.2 822.2 L2933.5 815.7 L2935.7 813.9 L2937.4 815.7 L2939.1 819.3 L2940.9 816.5 L2943.0 814.3 L2944.3 820.4 L2946.1 824.8 L2947.8 828.0 L2949.6 822.2 L2951.3 825.2 L2953.5 827.4 L2955.2 832.4 L2957.0 836.7 L2958.3 842.2 L2960.0 852.0 L2961.7 849.8 L2963.0 842.2 L2964.8 846.1 L2966.5 843.9 L2968.3 847.6 L2969.6 845.4 L2971.3 848.7 L2973.0 846.5 L2975.7 844.8 L2977.4 837.8 L2979.1 832.4 L2981.3 829.1 L2983.0 832.4 L2984.8 840.0 L2987.0 841.1 L2988.7 843.3 L2990.9 846.5 L2992.6 850.4 L2994.8 850.9 L2996.5 852.0 L2998.7 845.4 L3000.9 843.3 L3003.0 840.0 L3004.8 839.6 L3006.5 845.4 L3008.3 847.6 L3010.4 843.3 L3012.6 841.1 L3014.8 840.0 L3016.5 831.3 L3018.7 827.4 L3020.9 826.5 L3022.6 828.0 L3024.3 840.0 L3026.1 843.3 L3028.3 841.7 L3030.4 840.4 L3032.6 843.3 L3034.8 844.8 L3037.0 841.1 L3039.6 838.9 L3041.3 842.2 L3043.5 842.6 L3045.7 838.9 L3047.8 837.8 L3049.6 842.2 L3051.7 849.8 L3053.9 844.3 L3056.1 841.1 L3058.3 843.3 L3060.0 840.0 L3061.7 846.5 L3063.9 848.7 L3065.7 844.3 L3067.0 824.8 L3068.7 798.7 L3070.0 770.4 L3071.4 763.8 L3072.9 773.7 L3074.9 773.7 L3076.4 729.0 L3077.9 736.5 L3079.4 727.8 L3080.9 726.5 L3082.4 705.4 L3083.4 669.4 L3084.8 632.3 L3086.3 642.0 L3087.8 663.0 L3089.3 647.0 L3090.8 637.1 L3092.3 624.7 L3093.8 604.8 L3095.3 590.4 L3096.8 589.9 L3098.3 599.8 L3099.8 581.2 L3101.2 584.9 L3102.2 592.4 L3103.2 647.0 L3104.7 644.5 L3106.2 616.0 L3107.7 614.2 L3109.2 630.7 L3110.7 619.8 L3112.2 630.9 L3113.7 664.4 L3114.7 681.6 L3116.1 665.8 L3117.6 684.3 L3119.1 676.8 L3120.6 668.9 L3122.1 679.3 L3123.1 691.2 L3124.6 684.3 L3126.1 691.7 L3127.1 689.3 L3128.6 695.5 L3130.1 669.4 L3131.6 623.4 L3133.5 622.2 L3135.5 622.2 L3137.0 652.0 L3139.0 675.4 L3140.5 652.0 L3142.0 650.7 L3143.5 664.3 L3145.0 644.5 L3146.0 623.4 L3148.0 610.7 L3148.9 622.2 L3149.9 650.7 L3151.9 649.0 L3153.9 654.5 L3155.9 655.7 L3157.9 661.9 L3159.9 673.9 L3161.4 665.7 L3162.9 661.9 L3164.3 674.3 L3165.8 706.6 L3167.3 710.4 L3168.8 727.8 L3170.8 737.7 L3172.3 737.0 L3173.8 742.7 L3175.3 719.1 L3176.8 709.1 L3178.8 706.1 L3180.7 715.3 L3182.2 707.9 L3183.7 720.2 L3185.2 707.9 L3186.7 709.1 L3187.7 720.3 L3189.7 718.6 L3191.2 743.9 L3193.2 753.9 L3195.7 758.3 L3196.6 719.1 L3197.4 644.5 L3198.1 610.7 L3199.1 690.3 L3200.1 674.3 L3201.1 658.4 L3202.1 676.8 L3203.6 705.4 L3205.1 709.1 L3206.6 743.8 L3208.1 729.0 L3209.6 734.0 L3211.1 726.5 L3212.5 725.3 L3214.0 736.0 L3215.5 729.0 L3217.0 725.3 L3218.5 737.0 L3220.5 737.7 L3222.5 731.5 L3224.0 725.3 L3226.0 727.8 L3227.5 738.9 L3229.4 747.6 L3231.4 745.2 L3232.9 755.1 L3235.4 750.9 L3236.9 763.8 L3237.9 775.7 L3239.9 780.7 L3241.4 760.8 L3242.9 761.3 L3244.3 750.9 L3246.3 758.8 L3248.3 765.8 L3250.3 762.5 L3252.3 760.8 L3254.3 761.3 L3255.8 743.9 L3257.8 732.7 L3259.8 735.2 L3262.2 737.0 L3264.2 742.7 L3266.2 738.4 L3268.2 738.9 L3270.2 748.9 L3272.7 746.4 L3273.7 719.1 L3275.2 705.4 L3276.1 697.2 L3277.6 709.1 L3279.1 699.7 L3280.6 701.7 L3282.1 719.1 L3284.1 725.3 L3286.1 726.0 L3288.1 724.0 L3289.1 716.6 L3290.1 706.6 L3291.1 724.0 L3293.0 721.1 L3295.5 721.1 L3297.5 727.8 L3299.5 740.9 L3302.0 742.7 L3304.0 741.4 L3306.0 758.7 L3308.0 747.6 L3309.9 736.5 L3311.4 733.5 L3312.9 741.4 L3314.9 755.8 L3316.4 760.8 L3318.4 758.3 L3320.4 767.5 L3322.4 768.8 L3323.9 780.7 L3325.3 785.7 L3327.3 772.5 L3329.3 782.4 L3331.3 781.2 L3333.3 775.0 L3335.3 784.9 L3337.3 768.8 L3339.3 775.7 L3341.2 774.2 L3343.2 773.7 L3344.7 758.8 L3346.2 738.9 L3347.7 734.5 L3349.2 727.8 L3351.2 725.3 L3352.7 719.1 L3354.2 701.7 L3355.7 699.2 L3357.1 690.5 L3358.6 679.3 L3359.6 678.8 L3360.6 701.7 L3362.1 706.6 L3363.6 703.7 L3365.1 699.2 L3366.6 711.1 L3368.1 716.6 L3369.6 725.3 L3371.6 738.9 L3373.0 729.0 L3374.5 722.0 L3376.0 730.2 L3377.5 714.1 L3379.5 710.4 L3381.0 707.9 L3382.5 716.6 L3384.0 689.3 L3385.5 672.4 L3387.0 668.1 L3388.0 669.4 L3389.4 660.7 L3390.9 695.5 L3392.9 694.2 L3394.4 671.9 L3395.9 670.6 L3396.9 673.1 L3397.9 696.7 L3399.9 690.5 L3401.9 691.7 L3403.9 701.7 L3405.8 709.1 L3407.8 699.2 L3409.8 705.4 L3411.8 702.9 L3413.8 691.7 L3415.3 689.3 L3416.8 681.8 L3418.3 674.3 L3419.8 669.9 L3421.2 680.6 L3422.7 689.3 L3424.2 674.3 L3425.7 671.9 L3427.2 681.8 L3429.2 684.3 L3430.7 701.7 L3432.2 706.6 L3433.2 720.3 L3435.2 714.1 L3436.6 706.6 L3438.6 705.4 L3440.1 694.2 L3441.6 688.0 L3443.1 691.7 L3444.6 695.5 L3446.1 686.8 L3447.6 699.2 L3449.1 700.4 L3450.1 756.3 L3451.6 758.8 L3453.0 734.0 L3454.5 730.2 L3456.0 743.9 L3457.5 755.1 L3459.0 760.8 L3460.5 755.1 L3462.0 750.1 L3464.0 761.3 L3466.0 753.9 L3467.5 750.1 L3468.9 743.9 L3470.4 750.1 L3471.9 756.3 L3473.4 767.5" fill="none" stroke="#00cd00" stroke-width="3.55" stroke-linejoin="round" stroke-linecap="butt"/>
<g stroke="#000" stroke-width="4.45" fill="none" stroke-linecap="square">
<path d="M130.5 22.9 V983.4"/>
<path d="M3476.4 22.9 V983.4"/>
<path d="M130.5 983.4 H3476.4"/>
</g>
<g stroke="#000" stroke-width="4.45" fill="none" stroke-linecap="butt">
<path d="M119.0 73.7 H130.5"/>
<path d="M119.0 344.4 H130.5"/>
<path d="M119.0 615.2 H130.5"/>
<path d="M119.0 886.0 H130.5"/>
<path d="M3476.4 946.0 H3487.9"/>
<path d="M3476.4 649.5 H3487.9"/>
<path d="M3476.4 353.1 H3487.9"/>
<path d="M3476.4 56.6 H3487.9"/>
<path d="M218.8 983.4 V994.9"/>
<path d="M321.2 983.4 V994.9"/>
<path d="M424.8 983.4 V994.9"/>
<path d="M529.5 983.4 V994.9"/>
<path d="M634.1 983.4 V994.9"/>
<path d="M736.6 983.4 V994.9"/>
<path d="M840.1 983.4 V994.9"/>
<path d="M944.8 983.4 V994.9"/>
<path d="M1049.5 983.4 V994.9"/>
<path d="M1153.0 983.4 V994.9"/>
<path d="M1256.6 983.4 V994.9"/>
<path d="M1361.3 983.4 V994.9"/>
<path d="M1466.0 983.4 V994.9"/>
<path d="M1568.4 983.4 V994.9"/>
<path d="M1671.9 983.4 V994.9"/>
<path d="M1776.6 983.4 V994.9"/>
<path d="M1881.3 983.4 V994.9"/>
<path d="M1983.7 983.4 V994.9"/>
<path d="M2087.3 983.4 V994.9"/>
<path d="M2191.9 983.4 V994.9"/>
<path d="M2296.6 983.4 V994.9"/>
<path d="M2399.0 983.4 V994.9"/>
<path d="M2502.6 983.4 V994.9"/>
<path d="M2607.3 983.4 V994.9"/>
<path d="M2712.0 983.4 V994.9"/>
<path d="M2815.5 983.4 V994.9"/>
<path d="M2919.1 983.4 V994.9"/>
<path d="M3023.8 983.4 V994.9"/>
<path d="M3128.4 983.4 V994.9"/>
<path d="M3230.9 983.4 V994.9"/>
<path d="M3334.4 983.4 V994.9"/>
<path d="M3439.1 983.4 V994.9"/>
</g>
<g font-size="36.67" fill="#000">
<text transform="translate(109.2 87.5) scale(1 1.035)" text-anchor="end">4</text>
<text transform="translate(109.2 358.2) scale(1 1.035)" text-anchor="end">2</text>
<text transform="translate(109.2 629.0) scale(1 1.035)" text-anchor="end">0</text>
<text transform="translate(109.2 899.8) scale(1 1.035)" text-anchor="end">-2</text>
<text transform="translate(3496.6 959.8) scale(1 1.035)" text-anchor="start">0</text>
<text transform="translate(3496.6 663.3) scale(1 1.035)" text-anchor="start">1</text>
<text transform="translate(3496.6 366.9) scale(1 1.035)" text-anchor="start">2</text>
<text transform="translate(3496.6 70.4) scale(1 1.035)" text-anchor="start">3</text>
<text transform="translate(232.9 1003.9) rotate(-90) scale(1 1.035)" text-anchor="end">2018-01</text>
<text transform="translate(335.3 1003.9) rotate(-90) scale(1 1.035)" text-anchor="end">2018-04</text>
<text transform="translate(438.9 1003.9) rotate(-90) scale(1 1.035)" text-anchor="end">2018-07</text>
<text transform="translate(543.6 1003.9) rotate(-90) scale(1 1.035)" text-anchor="end">2018-10</text>
<text transform="translate(648.2 1003.9) rotate(-90) scale(1 1.035)" text-anchor="end">2019-01</text>
<text transform="translate(750.7 1003.9) rotate(-90) scale(1 1.035)" text-anchor="end">2019-04</text>
<text transform="translate(854.2 1003.9) rotate(-90) scale(1 1.035)" text-anchor="end">2019-07</text>
<text transform="translate(958.9 1003.9) rotate(-90) scale(1 1.035)" text-anchor="end">2019-10</text>
<text transform="translate(1063.6 1003.9) rotate(-90) scale(1 1.035)" text-anchor="end">2020-01</text>
<text transform="translate(1167.1 1003.9) rotate(-90) scale(1 1.035)" text-anchor="end">2020-04</text>
<text transform="translate(1270.7 1003.9) rotate(-90) scale(1 1.035)" text-anchor="end">2020-07</text>
<text transform="translate(1375.4 1003.9) rotate(-90) scale(1 1.035)" text-anchor="end">2020-10</text>
<text transform="translate(1480.1 1003.9) rotate(-90) scale(1 1.035)" text-anchor="end">2021-01</text>
<text transform="translate(1582.5 1003.9) rotate(-90) scale(1 1.035)" text-anchor="end">2021-04</text>
<text transform="translate(1686.0 1003.9) rotate(-90) scale(1 1.035)" text-anchor="end">2021-07</text>
<text transform="translate(1790.7 1003.9) rotate(-90) scale(1 1.035)" text-anchor="end">2021-10</text>
<text transform="translate(1895.4 1003.9) rotate(-90) scale(1 1.035)" text-anchor="end">2022-01</text>
<text transform="translate(1997.8 1003.9) rotate(-90) scale(1 1.035)" text-anchor="end">2022-04</text>
<text transform="translate(2101.4 1003.9) rotate(-90) scale(1 1.035)" text-anchor="end">2022-07</text>
<text transform="translate(2206.0 1003.9) rotate(-90) scale(1 1.035)" text-anchor="end">2022-10</text>
<text transform="translate(2310.7 1003.9) rotate(-90) scale(1 1.035)" text-anchor="end">2023-01</text>
<text transform="translate(2413.1 1003.9) rotate(-90) scale(1 1.035)" text-anchor="end">2023-04</text>
<text transform="translate(2516.7 1003.9) rotate(-90) scale(1 1.035)" text-anchor="end">2023-07</text>
<text transform="translate(2621.4 1003.9) rotate(-90) scale(1 1.035)" text-anchor="end">2023-10</text>
<text transform="translate(2726.1 1003.9) rotate(-90) scale(1 1.035)" text-anchor="end">2024-01</text>
<text transform="translate(2829.6 1003.9) rotate(-90) scale(1 1.035)" text-anchor="end">2024-04</text>
<text transform="translate(2933.2 1003.9) rotate(-90) scale(1 1.035)" text-anchor="end">2024-07</text>
<text transform="translate(3037.9 1003.9) rotate(-90) scale(1 1.035)" text-anchor="end">2024-10</text>
<text transform="translate(3142.5 1003.9) rotate(-90) scale(1 1.035)" text-anchor="end">2025-01</text>
<text transform="translate(3245.0 1003.9) rotate(-90) scale(1 1.035)" text-anchor="end">2025-04</text>
<text transform="translate(3348.5 1003.9) rotate(-90) scale(1 1.035)" text-anchor="end">2025-07</text>
<text transform="translate(3453.2 1003.9) rotate(-90) scale(1 1.035)" text-anchor="end">2025-10</text>
<text transform="translate(1369.5 1296.5) scale(1 1.035)" text-anchor="start">95% CV</text>
<text transform="translate(1622.3 1296.5) scale(1 1.035)" text-anchor="start">Price</text>
<text transform="translate(1824.3 1296.5) scale(1 1.035)" text-anchor="start">SADF</text>
<text transform="translate(2077.6 1296.5) scale(1 1.035)" text-anchor="start">Bubble episode</text>
</g>
<g font-size="45.83" fill="#000">
<text transform="translate(1803.4 1182.8) scale(1 1.035)" text-anchor="middle">Date</text>
<text transform="translate(56.6 503.2) rotate(-90) scale(1 1.035)" text-anchor="middle">SADF statistic</text>
<text transform="translate(3543.4 503.6) rotate(90) scale(1 1.035)" text-anchor="middle">Price (USD)</text>
</g>
<path d="M1282.8 1283 H1340.4" stroke="#ff0000" stroke-width="4.45" stroke-dasharray="17.78 17.78" fill="none"/>
<path d="M1535.1 1283 H1592.7" stroke="#00cd00" stroke-width="3.55" fill="none"/>
<path d="M1736.3 1283 H1793.9" stroke="#0000ff" stroke-width="4.45" fill="none"/>
<rect x="1987.3" y="1250" width="65.8" height="66" fill="#bfbfbf"/>
</svg>
</body></html>
